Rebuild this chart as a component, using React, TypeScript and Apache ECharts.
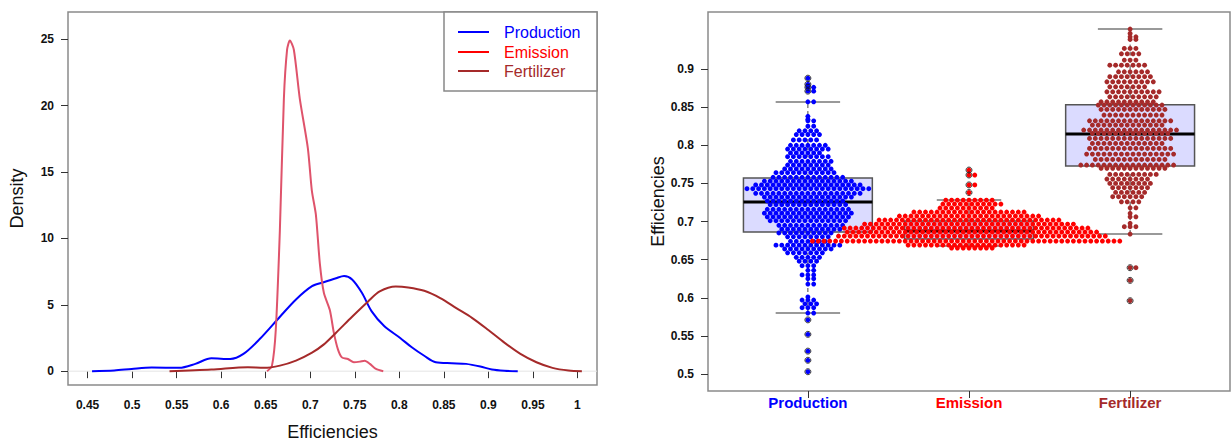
import React, { useEffect, useRef } from "react";
import * as echarts from "echarts";

// ---------- Left panel: density curves ----------
const densityTicksX = [0.45, 0.5, 0.55, 0.6, 0.65, 0.7, 0.75, 0.8, 0.85, 0.9, 0.95, 1];
const densityTicksY = [0, 5, 10, 15, 20, 25];

const productionDensity = [
  [0.455, 0], [0.48, 0.05], [0.4995, 0.17], [0.522, 0.28], [0.553, 0.25], [0.571, 0.55],
  [0.589, 0.97], [0.61, 0.92], [0.625, 1.3], [0.643, 2.4], [0.666, 4.1], [0.684, 5.4],
  [0.702, 6.4], [0.715, 6.7], [0.729, 7.0], [0.738, 7.16], [0.747, 6.9], [0.758, 5.9],
  [0.769, 4.5], [0.783, 3.4], [0.801, 2.5], [0.814, 1.8], [0.828, 1.16], [0.841, 0.67],
  [0.859, 0.6], [0.875, 0.55], [0.891, 0.35], [0.904, 0.12], [0.918, 0.03], [0.933, 0],
];
const emissionDensity = [
  [0.6515, 0], [0.657, 0.4], [0.6613, 3.1], [0.6659, 10.6], [0.6704, 20.5], [0.674, 24.2],
  [0.6771, 24.9], [0.6816, 24.2], [0.6883, 20.5], [0.6973, 16.8], [0.7018, 13.6],
  [0.7063, 11.8], [0.7108, 8.1], [0.7153, 5.9], [0.722, 4.6], [0.7265, 2.9], [0.731, 1.66],
  [0.7355, 1.04], [0.7423, 0.92], [0.749, 0.67], [0.7558, 0.72], [0.7611, 0.79],
  [0.767, 0.55], [0.7738, 0.17], [0.782, 0],
];
const fertilizerDensity = [
  [0.542, 0], [0.589, 0.12], [0.63, 0.3], [0.648, 0.25], [0.666, 0.42], [0.684, 0.8],
  [0.702, 1.4], [0.715, 2.0], [0.729, 2.9], [0.747, 4.1], [0.765, 5.25], [0.778, 6.0],
  [0.796, 6.37], [0.81, 6.3], [0.828, 6.05], [0.846, 5.5], [0.864, 4.75], [0.882, 4.0],
  [0.9, 3.1], [0.918, 2.15], [0.936, 1.3], [0.954, 0.67], [0.972, 0.25], [0.99, 0.05],
  [1.005, 0],
];

// ---------- Right panel: beeswarm + boxplot ----------
const groups = ["Production", "Emission", "Fertilizer"];
const effTicks = [0.5, 0.55, 0.6, 0.65, 0.7, 0.75, 0.8, 0.85, 0.9];

// [value, number of points at that value]
const productionRows = [
  [0.888, 1], [0.88, 1], [0.876, 2], [0.871, 2], [0.857, 2], [0.838, 1], [0.834, 1],
  [0.832, 2], [0.825, 2], [0.819, 4], [0.814, 5], [0.807, 5], [0.8, 7], [0.795, 8],
  [0.79, 6], [0.785, 8], [0.779, 8], [0.774, 8], [0.769, 9], [0.764, 11], [0.758, 13],
  [0.753, 16], [0.748, 19], [0.743, 22], [0.737, 19], [0.732, 16], [0.727, 14],
  [0.722, 14], [0.716, 15], [0.711, 16], [0.706, 15], [0.701, 14], [0.695, 12],
  [0.69, 11], [0.685, 10], [0.68, 8], [0.674, 7], [0.669, 12], [0.664, 9], [0.659, 7],
  [0.653, 5], [0.648, 4], [0.642, 3], [0.636, 2], [0.63, 3], [0.625, 2], [0.618, 2],
  [0.601, 1], [0.597, 3], [0.592, 3], [0.587, 3], [0.58, 2], [0.571, 1], [0.552, 1],
  [0.53, 1], [0.518, 1], [0.503, 1],
];
const emissionRows = [
  [0.7675, 1], [0.761, 2], [0.748, 2], [0.738, 1], [0.728, 9], [0.7229, 11], [0.7176, 10],
  [0.7124, 20], [0.7071, 25], [0.7019, 32], [0.6966, 37], [0.6914, 43], [0.6862, 44],
  [0.6809, 47], [0.6744, 54], [0.6691, 21], [0.6652, 8],
];
const fertilizerRows = [
  [0.9524, 1], [0.9467, 1], [0.9423, 2], [0.9388, 2], [0.927, 3], [0.92, 4], [0.9117, 3],
  [0.905, 7], [0.8964, 6], [0.8899, 8], [0.8833, 9], [0.8767, 7], [0.8701, 10],
  [0.8636, 9], [0.857, 10], [0.8527, 12], [0.847, 12], [0.8396, 11], [0.8321, 15],
  [0.8265, 13], [0.8199, 17], [0.8155, 14], [0.809, 15], [0.8024, 13], [0.7958, 15],
  [0.7884, 16], [0.7814, 13], [0.774, 17], [0.7697, 12], [0.7618, 9], [0.7557, 8],
  [0.75, 8], [0.7443, 7], [0.7382, 6], [0.7325, 6], [0.7259, 4], [0.718, 2], [0.7107, 1],
  [0.7062, 2], [0.6976, 1], [0.6932, 3], [0.6836, 1], [0.6394, 2], [0.6228, 1], [0.5961, 1],
];

// [lower whisker, Q1, median, Q3, upper whisker]
const productionBox = [0.58, 0.6862, 0.7255, 0.757, 0.8567];
const emissionBox = [0.6678, 0.677, 0.6875, 0.7006, 0.7283];
const fertilizerBox = [0.6836, 0.7727, 0.8147, 0.8533, 0.9524];

const productionOutliers = [0.888, 0.88, 0.876, 0.871, 0.571, 0.552, 0.53, 0.518, 0.503];
const emissionOutliers = [0.7675, 0.761, 0.748, 0.738];
const fertilizerOutliers = [0.6394, 0.6228, 0.5961];

// ---------- layout constants ----------
const FONT = "Liberation Sans";
const LEFT_GRID = { left: 68, top: 12, width: 529, height: 379 };
const RIGHT_GRID = { left: 708, top: 12, width: 522, height: 379 };
const RX_MIN = 0.38;
const RX_MAX = 3.62;
const DOT_SPACING_PX = 5.8;

const fmt = (v: number) => String(parseFloat(Number(v).toFixed(2)));

// Row-based beeswarm layout: rows of equal values, alternate rows offset by half a dot (hex packing)
function swarm(rows: number[][], center: number) {
  const unit = (RX_MAX - RX_MIN) / RIGHT_GRID.width; // data units per px
  const pts: number[][] = [];
  rows.forEach(([v, n], i) => {
    if (n <= 2) {
      for (let k = 0; k < n; k++) pts.push([center + k * DOT_SPACING_PX * unit, v]);
      return;
    }
    const wantHalf = i % 2 === 1;
    const isHalf = n % 2 === 0;
    let shift = 0;
    if (wantHalf !== isHalf) shift = (i % 4 < 2 ? 0.5 : -0.5);
    for (let k = 0; k < n; k++) {
      const pos = k - (n - 1) / 2 + shift;
      pts.push([center + pos * DOT_SPACING_PX * unit, v]);
    }
  });
  return pts;
}

function buildOption() {
  const boldTick = { fontFamily: FONT, fontWeight: "bold" as const, fontSize: 12, color: "#111" };
  const tickLine = { lineStyle: { color: "#333", width: 1 } };
  const swarmSeries = [
    { rows: productionRows, color: "#0000FF" },
    { rows: emissionRows, color: "#FF0000" },
    { rows: fertilizerRows, color: "#A52A2A" },
  ].map((g, i) => ({
    type: "scatter",
    name: groups[i] + " points",
    xAxisIndex: 1,
    yAxisIndex: 1,
    symbol: "circle",
    symbolSize: 4.9,
    itemStyle: { color: g.color, opacity: 1 },
    data: swarm(g.rows, i + 1),
    silent: true,
  }));
  const outliers: number[][] = [];
  productionOutliers.forEach((v) => outliers.push([1, v]));
  emissionOutliers.forEach((v) => outliers.push([2, v]));
  fertilizerOutliers.forEach((v) => outliers.push([3, v]));

  return {
    animation: false,
    textStyle: { fontFamily: FONT },
    grid: [
      { ...LEFT_GRID, show: true, borderColor: "#8a8a8a", borderWidth: 1.5, backgroundColor: "transparent" },
      { ...RIGHT_GRID, show: true, borderColor: "#8a8a8a", borderWidth: 1.5, backgroundColor: "transparent" },
    ],
    xAxis: [
      {
        type: "value", gridIndex: 0, min: 0.428, max: 1.022,
        axisLine: { show: false }, splitLine: { show: false },
        axisTick: { show: true, length: 7, customValues: densityTicksX, ...tickLine },
        axisLabel: { customValues: densityTicksX, formatter: fmt, margin: 14, ...boldTick },
        name: "Efficiencies", nameLocation: "middle", nameGap: 38,
        nameTextStyle: { fontSize: 18, color: "#111", fontFamily: FONT },
      },
      {
        type: "value", gridIndex: 1, min: RX_MIN, max: RX_MAX,
        axisLine: { show: false }, splitLine: { show: false },
        axisTick: { show: true, length: 7, customValues: [1, 2, 3], ...tickLine },
        axisLabel: {
          customValues: [1, 2, 3], margin: 4,
          formatter: (v: number) => {
            const i = Math.round(v) - 1;
            return `{g${i}|${groups[i]}}`;
          },
          rich: {
            g0: { color: "#0000FF", fontWeight: "bold", fontSize: 15, fontFamily: FONT },
            g1: { color: "#FF0000", fontWeight: "bold", fontSize: 15, fontFamily: FONT },
            g2: { color: "#A52A2A", fontWeight: "bold", fontSize: 15, fontFamily: FONT },
          },
        },
      },
    ],
    yAxis: [
      {
        type: "value", gridIndex: 0, min: -1.04, max: 27.04,
        axisLine: { show: false }, splitLine: { show: false },
        axisTick: { show: true, length: 7, customValues: densityTicksY, ...tickLine },
        axisLabel: { customValues: densityTicksY, formatter: fmt, margin: 14, ...boldTick },
        name: "Density", nameLocation: "middle", nameGap: 42, nameRotate: 90,
        nameTextStyle: { fontSize: 18, color: "#111", fontFamily: FONT },
      },
      {
        type: "value", gridIndex: 1, min: 0.4777, max: 0.9748,
        axisLine: { show: false }, splitLine: { show: false },
        axisTick: { show: true, length: 7, customValues: effTicks, ...tickLine },
        axisLabel: { customValues: effTicks, formatter: fmt, margin: 14, ...boldTick },
        name: "Efficiencies", nameLocation: "middle", nameGap: 40, nameRotate: 90,
        nameTextStyle: { fontSize: 18, color: "#111", fontFamily: FONT },
      },
    ],
    series: [
      {
        type: "line", xAxisIndex: 0, yAxisIndex: 0, silent: true, showSymbol: false,
        data: [[0.428, 0], [1.022, 0]],
        lineStyle: { color: "#e4e4e4", width: 1 },
      },
      {
        type: "line", name: "Production", xAxisIndex: 0, yAxisIndex: 0, showSymbol: false,
        smooth: 0.3, data: productionDensity, lineStyle: { color: "#0000FF", width: 2 },
        itemStyle: { color: "#0000FF" },
      },
      {
        type: "line", name: "Emission", xAxisIndex: 0, yAxisIndex: 0, showSymbol: false,
        smooth: 0.25, data: emissionDensity, lineStyle: { color: "#DF536B", width: 2 },
        itemStyle: { color: "#DF536B" },
      },
      {
        type: "line", name: "Fertilizer", xAxisIndex: 0, yAxisIndex: 0, showSymbol: false,
        smooth: 0.3, data: fertilizerDensity, lineStyle: { color: "#A52A2A", width: 2 },
        itemStyle: { color: "#A52A2A" },
      },
      ...swarmSeries,
      {
        type: "custom",
        xAxisIndex: 1,
        yAxisIndex: 1,
        silent: true,
        encode: { x: 0, y: [1, 2, 3, 4, 5] },
        data: [
          [1, ...productionBox],
          [2, ...emissionBox],
          [3, ...fertilizerBox],
        ],
        renderItem: (params: any, api: any) => {
          const x = api.value(0);
          const low = api.value(1), q1 = api.value(2), med = api.value(3), q3 = api.value(4), high = api.value(5);
          const c = (a: number, b: number) => api.coord([a, b]);
          const hw = 0.4, cw = 0.2;
          const seg = (a: number[], b: number[], style: any) => ({
            type: "line", shape: { x1: a[0], y1: a[1], x2: b[0], y2: b[1] }, style,
          });
          const dash = { stroke: "#444", lineWidth: 1, lineDash: [4, 3] };
          const cap = { stroke: "#777", lineWidth: 1.5 };
          const tl = c(x - hw, q3);
          const br = c(x + hw, q1);
          return {
            type: "group",
            children: [
              seg(c(x, q3), c(x, high), dash),
              seg(c(x, low), c(x, q1), dash),
              seg(c(x - cw, high), c(x + cw, high), cap),
              seg(c(x - cw, low), c(x + cw, low), cap),
              {
                type: "rect",
                shape: { x: tl[0], y: tl[1], width: br[0] - tl[0], height: br[1] - tl[1] },
                style: { fill: "rgba(0,0,255,0.14)", stroke: "#555", lineWidth: 1.5 },
              },
              seg(c(x - hw, med), c(x + hw, med), { stroke: "#000", lineWidth: 3 }),
            ],
          };
        },
      },
      {
        type: "scatter",
        xAxisIndex: 1,
        yAxisIndex: 1,
        silent: true,
        symbol: "circle",
        symbolSize: 6,
        itemStyle: { color: "rgba(0,0,0,0)", borderColor: "#111", borderWidth: 1 },
        data: outliers,
      },
    ],
    graphic: [
      {
        type: "group",
        z: 100,
        children: [
          {
            type: "rect",
            shape: { x: 444, y: 12, width: 153, height: 79 },
            style: { fill: "#fff", stroke: "#888", lineWidth: 1.5 },
          },
          ...[
            { t: "Production", c: "#0000FF", y: 32 },
            { t: "Emission", c: "#FF0000", y: 52 },
            { t: "Fertilizer", c: "#A52A2A", y: 71 },
          ].flatMap((it) => [
            {
              type: "line",
              shape: { x1: 458, y1: it.y, x2: 489, y2: it.y },
              style: { stroke: it.c, lineWidth: 2 },
            },
            {
              type: "text",
              x: 504,
              y: it.y,
              style: {
                text: it.t, fill: it.c, fontSize: 16, fontFamily: FONT,
                verticalAlign: "middle", align: "left",
              },
            },
          ]),
        ],
      },
    ],
  };
}

export default function App() {
  const ref = useRef<HTMLDivElement>(null);
  useEffect(() => {
    if (!ref.current) return;
    const chart = echarts.init(ref.current, null, { renderer: "svg" });
    chart.setOption(buildOption() as any);
    return () => chart.dispose();
  }, []);
  return (
    <div
      ref={ref}
      style={{ position: "fixed", left: 0, top: 0, width: 1231, height: 446, background: "#fff" }}
    />
  );
}
